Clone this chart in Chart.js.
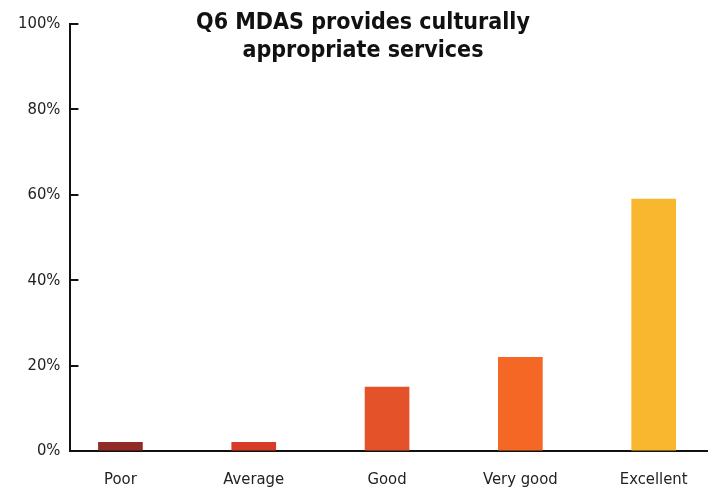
<!DOCTYPE html>
<html>
<head>
<meta charset="utf-8">
<script src="https://cdn.jsdelivr.net/npm/chart.js@4"></script>
<style>
  body { margin: 0; background: #fff; }
  #wrap { position: relative; width: 716px; height: 499px; }
  #title {
    position: absolute; left: 130px; width: 466px; top: 7px;
    text-align: center; font: bold 23px "DejaVu Sans Condensed", "Roboto", sans-serif;
    line-height: 28px; color: #111;
  }
</style>
</head>
<body>
<div id="wrap">
  <canvas id="chart" width="716" height="499"></canvas>
  <div id="title">Q6 MDAS provides culturally<br>appropriate services</div>
</div>
<script>
const categories = ['Poor', 'Average', 'Good', 'Very good', 'Excellent'];
const shares = [2.1, 2.1, 15, 22, 59];
const barColors = ['#922b27', '#d63c28', '#e4522a', '#f46724', '#f9b72f'];
const yTicks = [0, 20, 40, 60, 80, 100];

const points = shares.map((v, i) => ({ x: i, y: v }));
const labelFont = { family: '"DejaVu Sans Condensed", Roboto, sans-serif', size: 16.5 };

new Chart(document.getElementById('chart'), {
  type: 'bar',
  data: {
    datasets: [{
      data: points,
      backgroundColor: barColors,
      barThickness: 44,
    }],
  },
  options: {
    responsive: false,
    animation: false,
    layout: { padding: { top: 0, right: 9, left: 0, bottom: -2 } },
    plugins: {
      legend: { display: false },
      tooltip: { enabled: false },
    },
    scales: {
      x: {
        type: 'linear',
        offset: false,
        min: -0.375,
        max: 4.4,
        afterBuildTicks: (axis) => {
          axis.ticks = categories.map((c, i) => ({ value: i }));
        },
        grid: { display: false, offset: false },
        border: { color: '#111', width: 2 },
        ticks: {
          callback: (v) => categories[v],
          color: '#222',
          padding: 11,
          font: labelFont,
          maxRotation: 0,
        },
      },
      y: {
        min: 0,
        max: 100,
        afterBuildTicks: (axis) => {
          axis.ticks = yTicks.map(v => ({ value: v }));
        },
        // ticks point inward from the axis line
        grid: { drawOnChartArea: false, tickLength: -8, color: '#111', lineWidth: 2 },
        border: { color: '#111', width: 2 },
        ticks: {
          callback: (v) => v + '%',
          color: '#222',
          padding: 18,
          font: { ...labelFont, lineHeight: '12px' },
        },
      },
    },
  },
});
</script>
</body>
</html>
